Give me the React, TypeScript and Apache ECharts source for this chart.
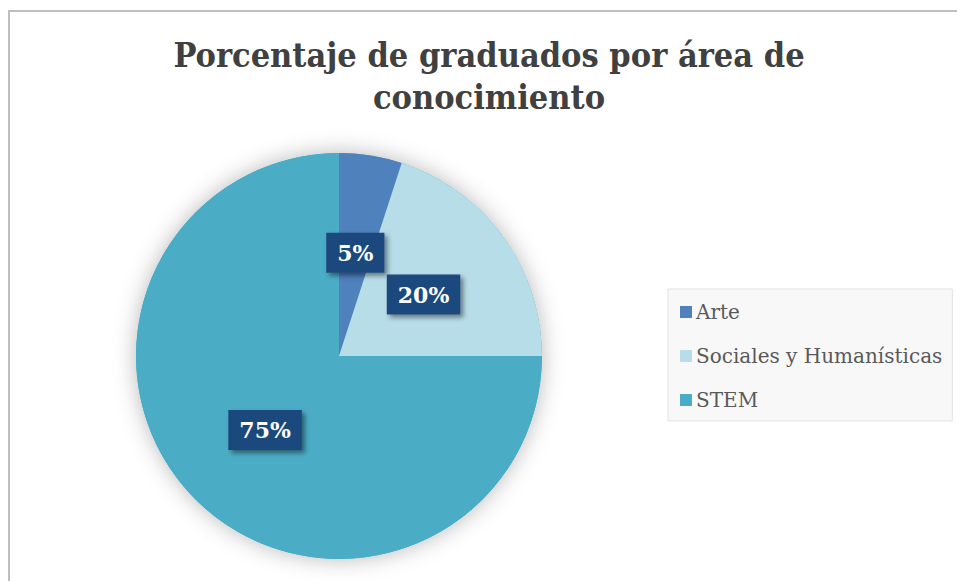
import React, { useEffect, useRef } from "react";
import * as echarts from "echarts";

const titleLines = ["Porcentaje de graduados por área de", "conocimiento"];
const categories = ["Arte", "Sociales y Humanísticas", "STEM"];
const values = [5, 20, 75];
const colors = ["#4f81bd", "#b7dde8", "#4bacc6"];

const SERIF = '"DejaVu Serif", "Liberation Serif", serif';
const TITLE_SERIF = '"DejaVu Serif Condensed", "Liberation Serif", serif';

export default function App() {
  const ref = useRef<HTMLDivElement>(null);
  useEffect(() => {
    if (!ref.current) return;
    const chart = echarts.init(ref.current, undefined, { renderer: "svg" });
    const data = categories.map((name, i) => ({
      name,
      value: values[i],
      itemStyle: { color: colors[i] },
    }));
    chart.setOption({
      animation: false,
      backgroundColor: "#ffffff",
      graphic: [
        {
          type: "rect",
          silent: true,
          shape: { x: 9, y: 11, width: 1000, height: 1000 },
          style: { fill: "none", stroke: "#bfbfbf", lineWidth: 2 },
        },
        {
          type: "text",
          silent: true,
          x: 489,
          y: 34,
          style: {
            text: titleLines.join("\n"),
            textAlign: "center",
            textVerticalAlign: "top",
            fontFamily: TITLE_SERIF,
            fontWeight: "bold",
            fontSize: 34,
            lineHeight: 42,
            fill: "#404040",
          },
        },
      ],
      legend: {
        data: categories,
        orient: "vertical",
        left: 668,
        top: 289,
        backgroundColor: "#f8f8f8",
        borderColor: "#e3e3e3",
        borderWidth: 1,
        borderRadius: 0,
        padding: [11, 10, 9, 12],
        itemWidth: 12,
        itemHeight: 12,
        itemGap: 20,
        icon: "rect",
        selectedMode: false,
        textStyle: {
          fontFamily: SERIF,
          fontSize: 20,
          lineHeight: 24,
          color: "#595959",
          padding: [0, 0, 0, -1],
        },
      },
      series: [
        {
          type: "pie",
          silent: true,
          center: [339, 356],
          radius: 203,
          label: { show: false },
          labelLine: { show: false },
          itemStyle: {
            color: "#4bacc6",
            shadowBlur: 22,
            shadowColor: "rgba(0,0,0,0.28)",
          },
          data: [{ name: "_shadow", value: 1 }],
        },
        {
          type: "pie",
          center: [339, 356],
          radius: 203,
          startAngle: 90,
          clockwise: true,
          silent: true,
          itemStyle: { borderWidth: 0 },
          label: {
            show: true,
            position: "inside",
            formatter: "{c}%",
            fontFamily: SERIF,
            fontWeight: "bold",
            fontSize: 22,
            lineHeight: 24,
            color: "#ffffff",
            backgroundColor: "#1f497d",
            padding: [8, 11, 8, 11],
            shadowColor: "rgba(0,0,0,0.45)",
            shadowBlur: 5,
            shadowOffsetX: 3,
            shadowOffsetY: 3,
          },
          labelLine: { show: false },
          data,
        },
      ],
    });
    return () => chart.dispose();
  }, []);
  return (
    <div
      ref={ref}
      style={{ position: "fixed", left: 0, top: 0, width: 957, height: 581 }}
    />
  );
}
